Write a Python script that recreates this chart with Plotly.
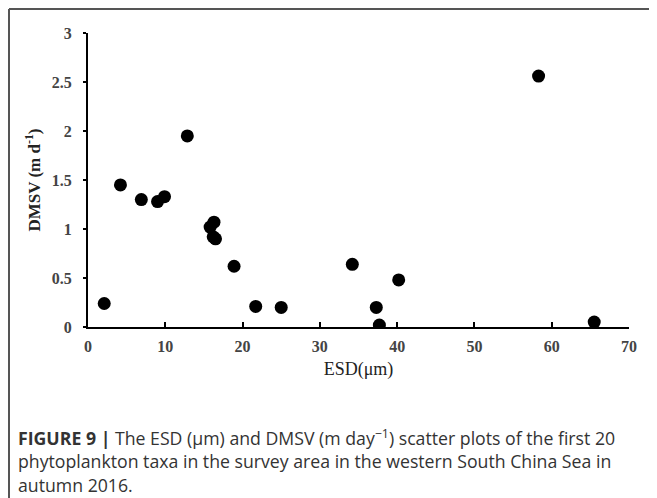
import plotly.graph_objects as go

# Data
esd = [2.1, 4.2, 6.9, 9.0, 9.9, 12.85, 15.8, 16.3, 16.2, 16.5,
       18.9, 21.7, 25.0, 34.2, 37.3, 37.7, 40.2, 58.3, 65.5]
dmsv = [0.24, 1.45, 1.30, 1.28, 1.33, 1.95, 1.02, 1.07, 0.92, 0.90,
        0.62, 0.21, 0.20, 0.64, 0.20, 0.02, 0.48, 2.56, 0.05]

x_ticks = [0, 10, 20, 30, 40, 50, 60, 70]
y_ticks = [0, 0.5, 1, 1.5, 2, 2.5, 3]
y_tick_text = ["0", "0.5", "1", "1.5", "2", "2.5", "3"]

caption_lines = [
    "<b>FIGURE 9 |</b> The ESD (μm) and DMSV (m day<sup>−1</sup>) scatter plots of the first 20",
    "phytoplankton taxa in the survey area in the western South China Sea in",
    "autumn 2016.",
]

# page body has an 8px margin, so the figure is drawn offset by (8, 8)
OFF = 8
W, H = 657 - OFF, 498 - OFF
ML, MR, MT = 88 - OFF, 28, 33 - OFF
PW, PH = 541, 294
MB = H - MT - PH


def px(x):
    return (x - OFF - ML) / PW


def py(y):
    return (MT + PH - (y - OFF)) / PH


fig = go.Figure()
fig.add_trace(go.Scatter(
    x=esd, y=dmsv, mode="markers",
    marker=dict(color="black", size=13, line=dict(width=0)),
    showlegend=False, hoverinfo="x+y",
))

serif = "Liberation Serif"
fig.update_xaxes(
    range=[0, 70], tickvals=x_ticks, ticktext=[f"<b>{v}</b>" for v in x_ticks],
    showline=True, linecolor="black", linewidth=2, mirror=False,
    ticks="inside", ticklen=5, tickwidth=2, tickcolor="black",
    showgrid=False, zeroline=False, ticklabelstandoff=4,
    tickfont=dict(family=serif, size=16, color="#444"),
    title=dict(text="ESD(μm)", font=dict(family=serif, size=18, color="#222"), standoff=8),
)
fig.update_yaxes(
    range=[0, 3], tickvals=y_ticks, ticktext=[f"<b>{t}</b>" for t in y_tick_text],
    showline=True, linecolor="black", linewidth=2,
    ticks="outside", ticklen=3, tickwidth=2, tickcolor="black",
    showgrid=False, zeroline=False, ticklabelstandoff=8,
    tickfont=dict(family=serif, size=16, color="#444"),
    title=dict(text="<b>DMSV (m d<sup>-1</sup>)</b>", font=dict(family=serif, size=17, color="#222"), standoff=7),
)

# Frame around the figure image (left and top edges visible)
frame = dict(color="#555555", width=2)
fig.add_shape(type="line", xref="paper", yref="paper",
              x0=px(9), x1=px(9), y0=py(498), y1=py(9), line=frame)
fig.add_shape(type="line", xref="paper", yref="paper",
              x0=px(9), x1=px(657), y0=py(9), y1=py(9), line=frame)

caption_y = [437, 461, 485]
for line, yy in zip(caption_lines, caption_y):
    fig.add_annotation(
        text=line, xref="paper", yref="paper",
        x=px(16), y=py(yy), xanchor="left", yanchor="middle",
        showarrow=False, align="left",
        font=dict(family="Open Sans", size=17.7, color="#333"),
    )

fig.update_layout(
    width=W, height=H,
    margin=dict(l=ML, r=MR, t=MT, b=MB),
    paper_bgcolor="white", plot_bgcolor="white",
)

fig.write_html("out.html")
